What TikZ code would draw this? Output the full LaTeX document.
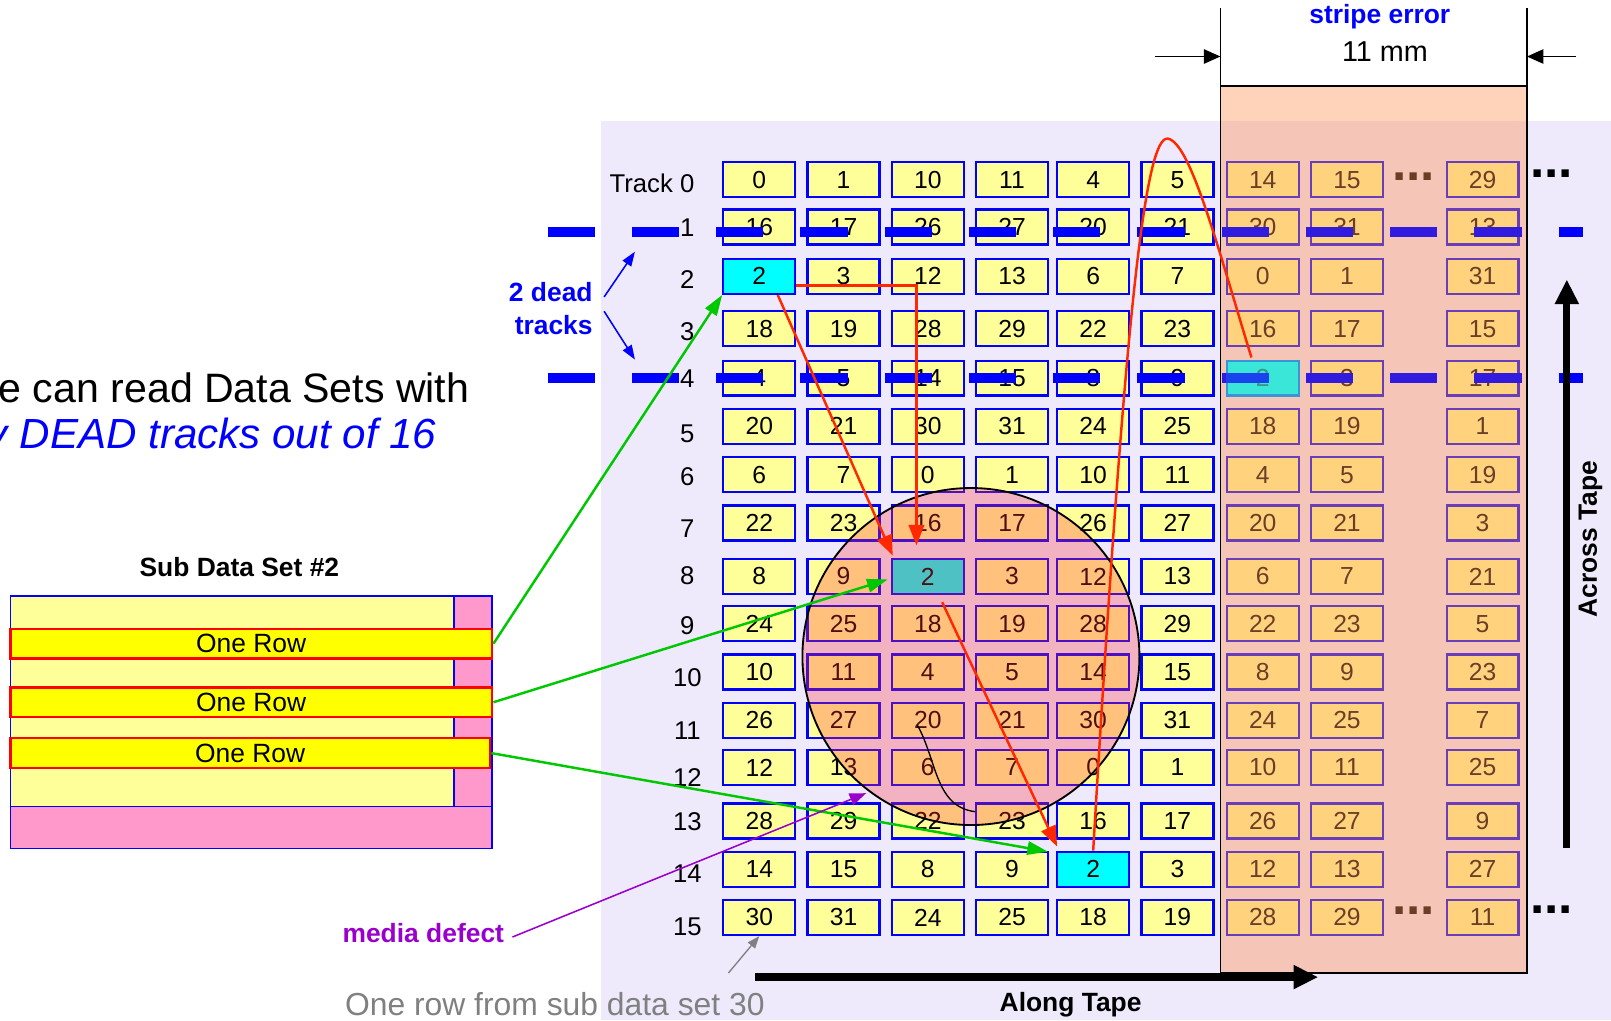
\documentclass[tikz,border=0pt]{standalone}
\usepackage{fontspec}
\setmainfont{Liberation Sans}
\usetikzlibrary{arrows.meta,calc}
\definecolor{lav}{RGB}{238,234,252}
\definecolor{cellyel}{RGB}{255,255,153}
\definecolor{rowyel}{RGB}{255,255,0}
\definecolor{pinkc}{RGB}{255,153,204}
\definecolor{cyanc}{RGB}{0,255,255}
\definecolor{bluec}{RGB}{0,0,255}
\definecolor{redc}{RGB}{255,40,0}
\definecolor{greenc}{RGB}{0,200,0}
\definecolor{purplec}{RGB}{153,0,204}
\definecolor{grayc}{RGB}{128,128,128}
\definecolor{salmonc}{RGB}{255,150,90}
\definecolor{defectc}{RGB}{255,50,60}
\newcommand\fsz[1]{\fontsize{#1}{#1}\selectfont}
\begin{document}
\begin{tikzpicture}[x=1pt,y=-1pt,
  cellbox/.style={draw=bluec, line width=2.2pt, minimum width=70pt, minimum height=34pt, inner sep=0pt, font=\fsz{24}},
  tracklab/.style={inner sep=0pt, font=\fsz{25}},
  boldlab/.style={inner sep=0pt, font=\fsz{25.7}\bfseries},
  rowbar/.style={draw=red, line width=2.5pt, fill=rowyel, inner sep=0pt, font=\fsz{25.7}},
  redline/.style={draw=redc, line width=2.4pt},
  redarrow/.style={redline, -{Triangle[length=20pt,width=15pt]}},
  greenarrow/.style={draw=greenc, line width=2.4pt, -{Triangle[length=20pt,width=13pt]}},
  deadtrack/.style={draw=bluec, line width=10pt, dash pattern=on 46pt off 36pt},
  bigarrow/.style={draw=black, line width=7pt, -{Triangle[length=24pt,width=22pt]}},
  dimarrow/.style={draw=black, line width=1.3pt, -{Triangle[length=16pt,width=14pt]}},
  dotsl/.style={inner sep=0pt, anchor=base, font=\fsz{50}\bfseries}
]
\useasboundingbox (0,0) rectangle (1568,993);
\fill[lav] (585,118) rectangle (1568,993);

% Sub data set box
\fill[cellyel] (10,580) rectangle (442,785);
\fill[pinkc] (442,580) rectangle (479,785);
\fill[pinkc] (10,785) rectangle (479,826);
\draw[bluec, line width=1.5pt] (10,580) rectangle (479,826);
\draw[bluec, line width=1.5pt] (442,580) -- (442,785) (10,785) -- (479,785);
\node[boldlab] (sdstitle) at (233,552) {Sub Data Set \#2};
\node[rowbar, minimum width=469pt, minimum height=29pt] (bar1) at (244.5,626.5) {One Row};
\node[rowbar, minimum width=469pt, minimum height=29pt] (bar2) at (244.5,683.5) {One Row};
\node[rowbar, minimum width=467pt, minimum height=29pt] (bar3) at (243.5,733) {One Row};

% cells
\foreach \vals [count=\r from 0] in {
 {0,1,10,11,4,5,14,15,29},
 {16,17,26,27,20,21,30,31,13},
 {2,3,12,13,6,7,0,1,31},
 {18,19,28,29,22,23,16,17,15},
 {4,5,14,15,8,9,2,3,17},
 {20,21,30,31,24,25,18,19,1},
 {6,7,0,1,10,11,4,5,19},
 {22,23,16,17,26,27,20,21,3},
 {8,9,2,3,12,13,6,7,21},
 {24,25,18,19,28,29,22,23,5},
 {10,11,4,5,14,15,8,9,23},
 {26,27,20,21,30,31,24,25,7},
 {12,13,6,7,0,1,10,11,25},
 {28,29,22,23,16,17,26,27,9},
 {14,15,8,9,2,3,12,13,27},
 {30,31,24,25,18,19,28,29,11}} {
  \pgfmathsetmacro\cy{{175,221,269,320,368,415,462,509,561,607,654,701,747,799,846,893}[\r]}
  \foreach \v [count=\c from 0] in \vals {
    \pgfmathsetmacro\cx{{739,821,903,985,1064,1146,1229,1311,1443}[\c]}
    \pgfmathtruncatemacro\iscyan{((\r==2)&&(\c==0))||((\r==8)&&(\c==2))||((\r==14)&&(\c==4))||((\r==4)&&(\c==6))}
    \ifnum\iscyan=1 \def\cf{cyanc}\else\def\cf{cellyel}\fi
    \node[cellbox, fill=\cf] (c-\r-\c) at (\cx,\cy) {\v};
  }
}

% track labels
\node[tracklab, anchor=east] (t0) at (676,178) {Track 0};
\foreach \lab/\ly in {1/222,2/272,3/323,4/369,5/422,6/464,7/515,8/560,9/609,10/660,11/711,12/757,13/800,14/850,15/902}
  \node[tracklab] (t\lab) at (669,\ly) {\lab};

% dead tracks
\draw[deadtrack] (533,226) -- (1541,226);
\draw[deadtrack] (533,368) -- (1541,368);

% dots
\node[dotsl] (dA) at (1376,176) {...};
\node[dotsl] (dB) at (1510,173) {...};
\node[dotsl] (dC) at (1376,890) {...};
\node[dotsl] (dD) at (1510,889) {...};

% stripe error
\node[fill=salmonc, fill opacity=0.42, minimum width=298pt, minimum height=863pt, inner sep=0pt] (stripe) at (1337,515.5) {};
\fill[cyanc, opacity=0.45] (c-4-6.south west) rectangle (c-4-6.north east);
\begin{scope}
  \clip (stripe.south west) rectangle (stripe.north east);
  \draw[deadtrack, draw opacity=0.55] (533,226) -- (1541,226);
  \draw[deadtrack, draw opacity=0.55] (533,368) -- (1541,368);
\end{scope}
\draw[line width=1.5pt] (stripe.south west) rectangle (stripe.north east);
\draw[line width=1.3pt] (stripe.north west) -- ++(0,-76);
\draw[line width=1.3pt] (stripe.north east) -- ++(0,-76);
\coordinate (dl) at (1124,55);
\coordinate (dr) at (1534,55);
\draw[dimarrow] (dl) -- (dl -| stripe.west);
\draw[dimarrow] (dr) -- (dr -| stripe.east);
\node[boldlab, text=bluec] (se) at (1343,16) {stripe error};
\node[inner sep=0pt, font=\fsz{28}] (mm) at (1348,50) {11 mm};

% media defect circle
\node[circle, draw=black, line width=1.8pt, fill=defectc, fill opacity=0.3, minimum size=328pt, inner sep=0pt] (defect) at (945,639) {};
\draw[black, line width=1.3pt] (893,706) .. controls (912,740) and (910,785) .. (949,790);

% red paths
\draw[redarrow] ($(c-2-0.east)+(0,9)$) -| ($(c-8-2.north)+(-11,-12)$);
\draw[redarrow] ($(c-2-0.south)+(18,0)$) -- ($(c-8-2.north west)+(2,-2)$);
\draw[redarrow] ($(c-8-2.south)+(14,7)$) -- ($(c-14-4.north west)+(1,-4)$);
\draw[redline] (c-14-4.north) .. controls (1095,300) and (1115,130) .. (1137,135)
   .. controls (1159,140) and (1185,240) .. ($(c-4-6.north)+(-11,-2)$);

% green arrows
\draw[greenarrow] (bar1.east) -- (c-2-0.south west);
\draw[greenarrow] (bar2.east) -- ($(c-8-2.west)+(-3,3)$);
\draw[greenarrow] (bar3.east) -- ($(c-14-4.north west)+(-8,1)$);

% media defect label
\node[boldlab, text=purplec] (media) at (412,908) {media defect};
\coordinate (mdpt) at (843,772);
\draw[purplec, line width=1.5pt, -{Triangle[length=16pt,width=12pt]}] ($(media.east)+(8,4)$) -- (mdpt);

% sub data set 30 label
\node[inner sep=0pt, font=\fsz{31}, text=grayc] (sds30) at (540,977) {One row from sub data set 30};
\coordinate (g30) at (709,947);
\draw[grayc, line width=1.3pt, -{Triangle[length=12pt,width=9pt]}] (g30) -- (c-15-0.south);

% dead tracks label
\node[inner sep=0pt, font=\fontsize{25.7}{32}\selectfont\bfseries, text=bluec, align=right, anchor=east] (dead) at (577,300) {2 dead\\tracks};
\coordinate (da1s) at (588,289);
\coordinate (da1e) at (618,245);
\coordinate (da2s) at (588,303);
\coordinate (da2e) at (618,350);
\draw[bluec, line width=1.5pt, -{Triangle[length=14pt,width=10pt]}] (da1s) -- (da1e);
\draw[bluec, line width=1.5pt, -{Triangle[length=14pt,width=10pt]}] (da2s) -- (da2e);

% along / across tape
\coordinate (al0) at (735,951);
\coordinate (al1) at (1283,951);
\draw[bigarrow] (al0) -- (al1);
\node[boldlab] (along) at (1042,978) {Along Tape};
\coordinate (ac0) at (1525,825);
\coordinate (ac1) at (1525,272);
\draw[bigarrow] (ac0) -- (ac1);
\node[boldlab, rotate=90] (across) at (1548,525) {Across Tape};

% headline
\node[anchor=base east, inner sep=0pt, font=\fsz{40}] (msg1) at (457,392) {We can read Data Sets with};
\node[anchor=base east, inner sep=0pt, font=\fsz{41}\itshape, text=bluec] (msg2) at (425,437) {any DEAD tracks out of 16};
\end{tikzpicture}
\end{document}
